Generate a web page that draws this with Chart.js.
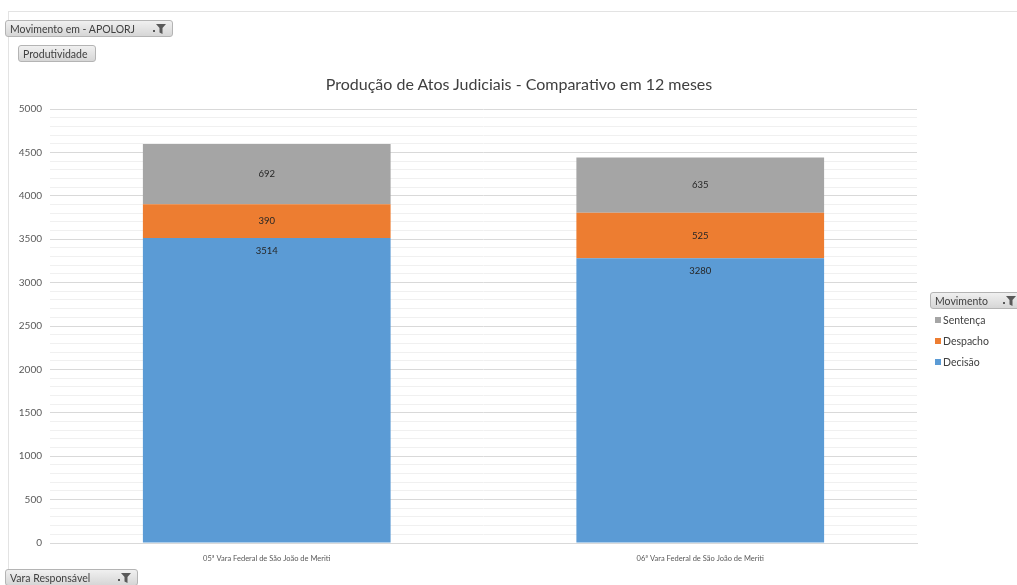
<!DOCTYPE html>
<html>
<head>
<meta charset="utf-8">
<script src="https://cdn.jsdelivr.net/npm/chart.js@4.4.1/dist/chart.umd.min.js"></script>
<style>
    html, body { margin: 0; padding: 0; background: #fff; }
    body { width: 1017px; height: 585px; position: relative; overflow: hidden; font-family: Lato, "Noto Sans", sans-serif; }
    #frame { position: absolute; left: 8px; top: 11px; width: 1020px; height: 600px; border-left: 1px solid #e3e3e3; border-top: 1px solid #e3e3e3; }
    #wrap { position: absolute; left: 0; top: 0; width: 1017px; height: 585px; }
    .btn {
        position: absolute; height: 17px; line-height: 16px; font-size: 10.5px; color: #404040;
        border: 1px solid #b4b4b4; border-radius: 3px; padding: 0 4px;
        background: linear-gradient(#f0f0f0, #d6d6d6); box-sizing: border-box; white-space: nowrap;
    }
    .btn svg { position: absolute; right: 5px; top: 2px; }
    #title { position: absolute; left: 0; width: 1038px; top: 74px; text-align: center; font-size: 16px; color: #404040; }
    #legend { position: absolute; left: 935px; top: 313px; font-size: 10.5px; color: #404040; }
    #legend div { height: 21px; line-height: 14px; }
    #legend span.sq { display: inline-block; width: 6px; height: 6px; margin-right: 2px; vertical-align: 1px; }
</style>
</head>
<body>
<div id="frame"></div>
<div id="wrap"><canvas id="graficoAtos"></canvas></div>
<div class="btn" style="left:5px; top:20px; width:168px;">Movimento em - APOLORJ<svg width="14" height="12"><rect x="0" y="7" width="2" height="2" fill="#595959"/><path d="M3 1 H13 L9.5 5 V11 L6.5 9.5 V5 Z" fill="#595959"/></svg></div>
<div class="btn" style="left:18px; top:45px; width:78px;">Produtividade</div>
<div class="btn" style="left:5px; top:569px; width:133px;">Vara Responsável<svg width="14" height="12"><rect x="0" y="7" width="2" height="2" fill="#595959"/><path d="M3 1 H13 L9.5 5 V11 L6.5 9.5 V5 Z" fill="#595959"/></svg></div>
<div class="btn" style="left:930px; top:292px; width:92px;">Movimento<svg width="14" height="12" style="right:4px"><rect x="0" y="7" width="2" height="2" fill="#595959"/><path d="M3 1 H13 L9.5 5 V11 L6.5 9.5 V5 Z" fill="#595959"/></svg></div>
<div id="title">Produção de Atos Judiciais - Comparativo em 12 meses</div>
<div id="legend"></div>

<script>
const varas = ['05ª Vara Federal de São João de Meriti', '06ª Vara Federal de São João de Meriti'];
const decisao = [3514, 3280];
const despacho = [390, 525];
const sentenca = [692, 635];
const yTicks = [0, 500, 1000, 1500, 2000, 2500, 3000, 3500, 4000, 4500, 5000];

const series = [
    { label: 'Decisão', data: decisao, color: '#5B9BD5' },
    { label: 'Despacho', data: despacho, color: '#ED7D31' },
    { label: 'Sentença', data: sentenca, color: '#A5A5A5' }
];

// legenda em HTML (ordem invertida, como no Excel)
const legendEl = document.getElementById('legend');
series.slice().reverse().forEach(s => {
    const d = document.createElement('div');
    d.innerHTML = '<span class="sq" style="background:' + s.color + '"></span>' + s.label;
    legendEl.appendChild(d);
});

// rótulos de dados dentro das barras
const rotulos = {
    id: 'rotulos',
    afterDatasetsDraw(chart) {
        const ctx = chart.ctx;
        ctx.save();
        ctx.font = '9.5px Lato, "Noto Sans", sans-serif';
        ctx.fillStyle = '#262626';
        ctx.textAlign = 'center';
        ctx.textBaseline = 'middle';
        chart.data.datasets.forEach((ds, i) => {
            chart.getDatasetMeta(i).data.forEach((bar, j) => {
                let y = (bar.y + bar.base) / 2;
                if (i === 0) y = bar.y + 13;
                ctx.fillText(ds.data[j], bar.x, y);
            });
        });
        ctx.restore();
    }
};

document.addEventListener('DOMContentLoaded', function() {
    const ctx = document.getElementById('graficoAtos').getContext('2d');
    new Chart(ctx, {
        type: 'bar',
        data: {
            labels: varas,
            datasets: series.map(s => ({
                label: s.label,
                data: s.data,
                backgroundColor: s.color,
                borderWidth: 0,
                categoryPercentage: 1,
                barPercentage: 1 / 1.75
            }))
        },
        options: {
            responsive: true,
            maintainAspectRatio: false,
            animation: false,
            layout: { padding: { left: 0, right: 100, top: 109, bottom: 0 } },
            scales: {
                x: {
                    stacked: true,
                    grid: { display: false },
                    border: { color: '#d9d9d9' },
                    ticks: { color: '#595959', font: { size: 7.5, family: 'Lato' }, padding: 3, maxRotation: 0 },
                    afterFit: s => { s.height = 42; }
                },
                y: {
                    stacked: true,
                    min: 0,
                    max: 5000,
                    border: { display: false },
                    grid: {
                        drawTicks: false,
                        color: c => (c.tick.value % 500 === 0 ? '#d9d9d9' : '#f0f0f0')
                    },
                    ticks: {
                        stepSize: 100,
                        autoSkip: false,
                        padding: 8,
                        color: '#595959',
                        font: { size: 10, family: 'Lato' },
                        callback: v => (yTicks.includes(v) ? v : '')
                    },
                    afterFit: s => { s.width = 50; }
                }
            },
            plugins: {
                legend: { display: false },
                title: { display: false },
                tooltip: { enabled: false }
            }
        },
        plugins: [rotulos]
    });
});
</script>
</body>
</html>
